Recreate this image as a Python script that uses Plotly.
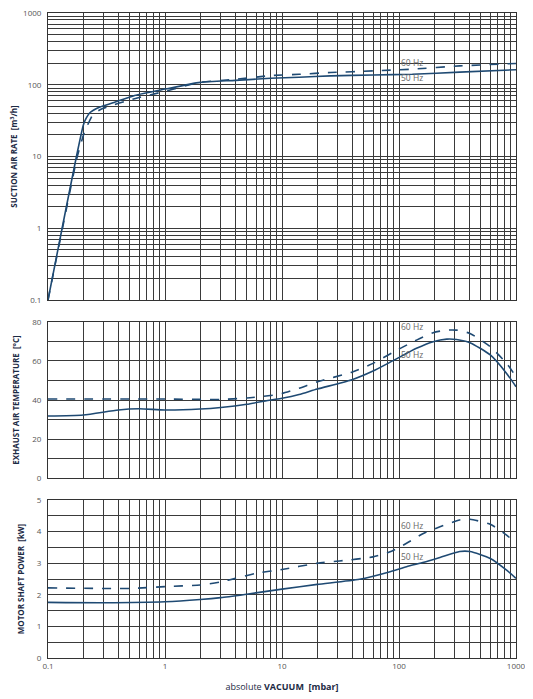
import math
import plotly.graph_objects as go

# ---------------- data ----------------
# Suction air rate [m3/h]
suction_x_50 = [0.1, 0.132, 0.175, 0.2, 0.207, 0.229, 0.278, 0.36, 0.55, 1, 2, 4, 8, 14, 26, 60, 130, 330, 1000]
suction_y_50 = [0.1, 1, 10, 27, 31.6, 41, 49, 56, 71, 87, 108, 115, 123, 127, 133, 137, 140, 150, 162]
suction_x_60 = [0.1, 0.133, 0.178, 0.205, 0.214, 0.244, 0.297, 0.55, 1, 2, 4, 8, 14, 26, 60, 130, 330, 1000]
suction_y_60 = [0.1, 1, 10, 22, 25.7, 39, 47, 64, 81, 108, 119, 134, 140, 148, 156, 165, 183, 198]

# Exhaust air temperature [°C]
temp_x_50 = [0.1, 0.2, 0.4, 0.6, 1, 2, 3, 5, 8, 10, 14, 20, 39, 60, 89, 141, 196, 256, 310, 404, 603, 831, 1000]
temp_y_50 = [31.8, 32.3, 34.9, 35.5, 34.9, 35.4, 36.2, 37.8, 40.0, 40.9, 42.8, 45.6, 50.2, 54.8, 60.1, 66.4, 69.8, 71.1, 70.9, 69.3, 63.0, 53.6, 46.8]
temp_x_60 = [0.1, 1, 3, 5, 8, 10, 14, 20, 39, 60, 89, 141, 196, 256, 310, 404, 603, 831, 1000]
temp_y_60 = [40.5, 40.5, 40.3, 41.0, 42.3, 43.3, 46.0, 49.3, 54.1, 58.7, 64.4, 70.6, 74.4, 75.7, 75.7, 74.0, 67.2, 58.7, 51.9]

# Motor shaft power [kW]
power_x_50 = [0.1, 0.3, 1, 2, 3, 5, 10, 20, 46, 84, 116, 163, 224, 330, 404, 603, 831, 1000]
power_y_50 = [1.76, 1.75, 1.78, 1.85, 1.91, 2.02, 2.18, 2.33, 2.49, 2.73, 2.89, 3.03, 3.18, 3.37, 3.37, 3.15, 2.78, 2.52]
power_x_60 = [0.1, 0.5, 1, 2, 3, 4, 6, 10, 20, 31, 60, 84, 116, 163, 224, 330, 404, 603, 831, 1000]
power_y_60 = [2.22, 2.20, 2.26, 2.31, 2.41, 2.52, 2.68, 2.80, 3.00, 3.07, 3.20, 3.36, 3.63, 3.95, 4.15, 4.37, 4.39, 4.23, 3.89, 3.63]

# ticks / grid
log_grid = [m * 10 ** e for e in (-1, 0, 1, 2) for m in range(1, 10)] + [1000]
log_labels_x = ["0.1", "1", "10", "100", "1000"]
log_labels_y = ["0.1", "1", "10", "100", "1000"]
temp_ticks = [0, 10, 20, 30, 40, 50, 60, 70, 80]
temp_labels = ["0", "", "20", "", "40", "", "60", "", "80"]
power_ticks = [0, 0.5, 1, 1.5, 2, 2.5, 3, 3.5, 4, 4.5, 5]
power_labels = ["0", "", "1", "", "2", "", "3", "", "4", "", "5"]

series_labels = ["50 Hz", "60 Hz"]


def log_text(labels):
    out = []
    for v in log_grid:
        s = f"{v:.10g}"
        out.append(s if s in labels else "")
    return out


LINE = "#1f4a73"
GRID = "#3a3a3a"
TXT = "#555555"
TITLE = "#1c2a44"
FONT = "Open Sans"

fig = go.Figure()

panels = [
    (suction_x_50, suction_y_50, suction_x_60, suction_y_60, "x", "y"),
    (temp_x_50, temp_y_50, temp_x_60, temp_y_60, "x2", "y2"),
    (power_x_50, power_y_50, power_x_60, power_y_60, "x3", "y3"),
]
for x50, y50, x60, y60, xa, ya in panels:
    fig.add_trace(go.Scatter(x=x50, y=y50, mode="lines", xaxis=xa, yaxis=ya,
                             line=dict(color=LINE, width=1.6, shape="spline", smoothing=0.6),
                             name=series_labels[0], showlegend=False))
    fig.add_trace(go.Scatter(x=x60, y=y60, mode="lines", xaxis=xa, yaxis=ya,
                             line=dict(color=LINE, width=1.6, dash="dash", shape="spline", smoothing=0.6),
                             name=series_labels[1], showlegend=False))

# page body has an 8px default margin -> build the figure 8px smaller
OFF = 8
W, H = 533 - OFF, 699 - OFF
ml, mr = 48 - OFF, 533 - 516
mt = 13 - OFF
mb = 699 - 658
ph = H - mt - mb


def dom(top_px, bot_px):
    top_px -= OFF
    bot_px -= OFF
    lo = max(0.0, (H - mb - bot_px) / ph)
    hi = min(1.0, (H - mb - top_px) / ph)
    return [lo, hi]


xcommon = dict(type="log", range=[-1, 3], tickvals=log_grid, showgrid=True,
               gridcolor=GRID, gridwidth=1, showline=True, mirror=True,
               linecolor="#333333", linewidth=1, ticks="", zeroline=False,
               automargin=False, ticklabeloverflow="allow",
               tickfont=dict(family=FONT, size=8, color=TXT))

ycommon = dict(showgrid=True, gridcolor=GRID, gridwidth=1, showline=True, mirror=True,
               linecolor="#333333", linewidth=1, ticks="", zeroline=False,
               automargin=False, ticklabeloverflow="allow",
               tickfont=dict(family=FONT, size=8, color=TXT), ticklabelstandoff=4)


def ytitle(t):
    return dict(text=t, font=dict(family=FONT, size=8, color=TITLE), standoff=11)


fig.update_layout(
    width=W, height=H,
    margin=dict(l=ml, r=mr, t=mt, b=mb),
    paper_bgcolor="white", plot_bgcolor="white",
    showlegend=False,
    xaxis=dict(**xcommon, anchor="y", domain=[0, 1], ticktext=[""] * len(log_grid)),
    xaxis2=dict(**xcommon, anchor="y2", domain=[0, 1], ticktext=[""] * len(log_grid)),
    xaxis3=dict(**xcommon, anchor="y3", domain=[0, 1], ticktext=log_text(log_labels_x),
                title=dict(text="absolute <b>VACUUM  [mbar]</b>",
                           font=dict(family=FONT, size=9, color=TITLE), standoff=14)),
    yaxis=dict(**ycommon, type="log", range=[-1, 3], domain=dom(13, 300),
               tickvals=log_grid, ticktext=log_text(log_labels_y),
               title=ytitle("<b>SUCTION AIR RATE  [m<sup>3</sup>/h]</b>")),
    yaxis2=dict(**ycommon, range=[0, 80], domain=dom(321.7, 478.3),
                tickvals=temp_ticks, ticktext=temp_labels,
                title=ytitle("<b>EXHAUST AIR TEMPERATURE  [°C]</b>")),
    yaxis3=dict(**ycommon, range=[0, 5], domain=dom(500, 658),
                tickvals=power_ticks, ticktext=power_labels,
                title=ytitle("<b>MOTOR SHAFT POWER  [kW]</b>")),
)

ann_font = dict(family=FONT, size=8.5, color="#666666")
annots = [
    ("x", "y", 130, 205, "60 Hz"), ("x", "y", 130, 125, "50 Hz"),
    ("x2", "y2", 130, 77.5, "60 Hz"), ("x2", "y2", 130, 63, "50 Hz"),
    ("x3", "y3", 130, 4.2, "60 Hz"), ("x3", "y3", 130, 3.2, "50 Hz"),
]
for xr, yr, xv, yv, t in annots:
    fig.add_annotation(x=math.log10(xv),
                       y=math.log10(yv) if yr == "y" else yv,
                       xref=xr, yref=yr, text=t, showarrow=False, font=ann_font)

fig.write_html("out.html")
